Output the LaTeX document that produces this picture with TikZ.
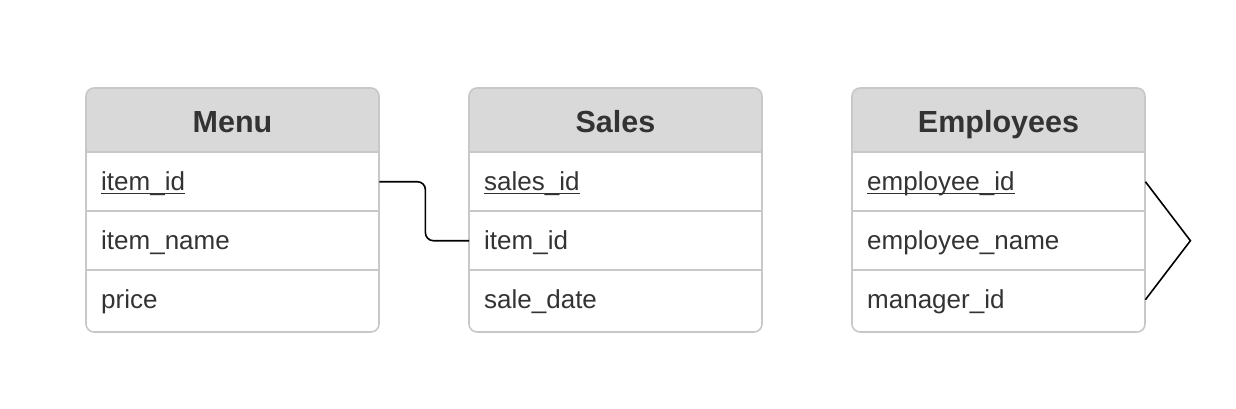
\documentclass[tikz,border=0pt]{standalone}
\usepackage{fontspec}
\setmainfont{Liberation Sans}
\definecolor{bordergray}{HTML}{C8C8C8}
\definecolor{headgray}{HTML}{D9D9D9}
\definecolor{txt}{HTML}{333333}
\newcommand\keyfield[1]{\setbox0\hbox{#1}\rlap{\rule[-4pt]{\wd0}{1.5pt}}\box0}
\begin{document}
\begin{tikzpicture}[x=1pt,y=-1pt,
  tblborder/.style={draw=bordergray, line width=1.6pt, rounded corners=8pt},
  sepline/.style={draw=bordergray, line width=1.6pt},
  hdrfill/.style={fill=headgray},
  hdrtext/.style={font=\fontsize{30.5}{36}\selectfont\bfseries, text=txt, inner sep=0pt, anchor=base},
  rowbox/.style={anchor=north west, minimum width=293pt, minimum height=59pt, text width=263pt, inner xsep=15pt, inner ysep=0pt, text height=21pt, text depth=4pt, align=left, font=\fontsize{26}{31}\selectfont, text=txt},
  conn/.style={draw=black, line width=1.6pt, rounded corners=8pt}
]
\useasboundingbox (0,0) rectangle (1236,408);
% table macro: #1 prefix, #2 x, #3 title, #4-#6 rows
\newcommand\ertable[6]{%
  \fill[hdrfill] (#2,152) {[rounded corners=8pt] -- (#2,88) -- (#2+293,88)} -- (#2+293,152) -- cycle;
  \node[hdrtext] (#1-h) at (#2+146.5,132) {#3};
  \node[rowbox] (#1-1) at (#2,152) {#4};
  \node[rowbox] (#1-2) at (#2,211) {#5};
  \node[rowbox] (#1-3) at (#2,270) {#6};
  \draw[sepline] (#2,152) -- (#2+293,152);
  \draw[sepline] (#2,211) -- (#2+293,211);
  \draw[sepline] (#2,270) -- (#2+293,270);
  \draw[tblborder] (#2,88) rectangle (#2+293,332);
}
\ertable{menu}{86}{Menu}{\keyfield{item\_id}}{item\_name}{price}
\ertable{sales}{469}{Sales}{\keyfield{sales\_id}}{item\_id}{sale\_date}
\ertable{emp}{852}{Employees}{\keyfield{employee\_id}}{employee\_name}{manager\_id}
% connectors
\draw[conn] (menu-1.east) -- ++(46,0) |- (sales-2.west);
\coordinate (selftip) at ([xshift=45pt]emp-2.east);
\draw[draw=black, line width=1.6pt] (emp-1.east) -- (selftip) -- (emp-3.east);
\end{tikzpicture}
\end{document}
